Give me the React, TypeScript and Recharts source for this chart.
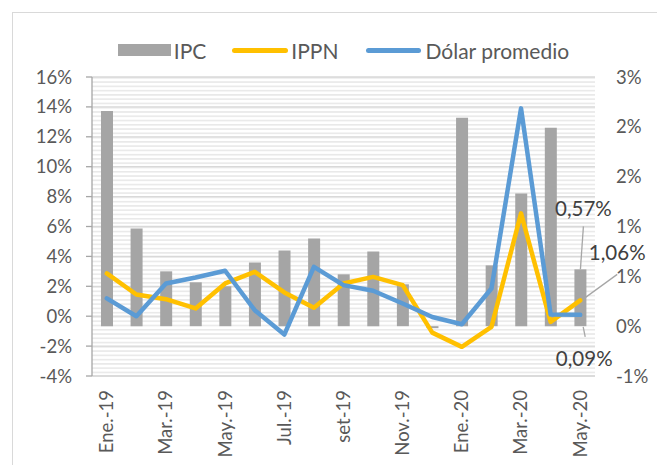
import React from 'react';
import { ComposedChart, Bar, Line, XAxis, YAxis, CartesianGrid, LabelList } from 'recharts';

const months = ["Ene.-19","Feb.-19","Mar.-19","Abr.-19","May.-19","Jun.-19","Jul.-19","Ago.-19","set-19","Oct.-19","Nov.-19","Dic.-19","Ene.-20","Feb.-20","Mar.-20","Abr.-20","May.-20"];
const ipc = [2.16, 0.98, 0.55, 0.44, 0.40, 0.64, 0.76, 0.88, 0.52, 0.75, 0.42, -0.02, 2.09, 0.61, 1.33, 1.99, 0.57];
const ippn = [2.86, 1.45, 1.14, 0.52, 2.19, 2.97, 1.59, 0.56, 2.19, 2.63, 2.08, -1.10, -2.05, -0.72, 6.88, -0.38, 1.06];
const dolar = [1.19, 0.0, 2.19, 2.59, 3.04, 0.40, -1.23, 3.30, 2.08, 1.70, 0.85, -0.05, -0.54, 1.85, 13.90, 0.11, 0.09];
const leftTicks = [-4, -2, 0, 2, 4, 6, 8, 10, 12, 14, 16];
const rightTicks = [-0.5, 0, 0.5, 1, 1.5, 2, 2.5];
const seriesNames = ["IPC", "IPPN", "Dólar promedio"];

const data = months.map((m, i) => ({ month: m, ipc: ipc[i], ippn: ippn[i], dolar: dolar[i] }));
const LAST = months.length - 1;

const FONT = 'Lato, "Open Sans", sans-serif';
const GRAY = '#A5A5A5';
const ORANGE = '#FFC000';
const BLUE = '#5B9BD5';
const TEXT = '#595959';

const excelRound = (v: number) => {
  const r = Math.sign(v) * Math.round(Math.abs(v));
  return `${r === 0 ? 0 : r}%`;
};
const fmt = (v: number) => `${v.toFixed(2).replace('.', ',')}%`;

const XTick = (props: any) => {
  const { x, y, payload } = props;
  return (
    <text
      x={x}
      y={y}
      transform={`rotate(-90, ${x}, ${y})`}
      textAnchor="end"
      dy="0.35em"
      fill={TEXT}
      fontSize={18.5}
      fontFamily={FONT}
    >
      {payload.value}
    </text>
  );
};

const BarLabel = (p: any) => {
  if (p.index !== LAST) return null;
  const cx = p.x + p.width / 2;
  const top = p.y;
  return (
    <g>
      <line x1={cx} y1={top} x2={cx + 3} y2={top - 43} stroke="#a6a6a6" strokeWidth={1.3} />
      <text x={cx + 3} y={top - 61} textAnchor="middle" dominantBaseline="central" fill="#404040" fontSize={20.5} fontFamily={FONT}>
        {fmt(p.value)}
      </text>
    </g>
  );
};

const IppnLabel = (p: any) => {
  if (p.index !== LAST) return null;
  const { x, y } = p;
  return (
    <g>
      <line x1={x + 4} y1={y - 2} x2={x + 37} y2={y - 26} stroke="#a6a6a6" strokeWidth={1.3} />
      <text x={x + 37} y={y - 48} textAnchor="middle" dominantBaseline="central" fill="#404040" fontSize={20.5} fontFamily={FONT}>
        {fmt(p.value)}
      </text>
    </g>
  );
};

const DolarLabel = (p: any) => {
  if (p.index !== LAST) return null;
  const { x, y } = p;
  return (
    <g>
      <line x1={x + 3} y1={y + 12} x2={x + 5} y2={y + 22} stroke="#a6a6a6" strokeWidth={1.3} />
      <text x={x + 4} y={y + 43} textAnchor="middle" dominantBaseline="central" fill="#404040" fontSize={20.5} fontFamily={FONT}>
        {fmt(p.value)}
      </text>
    </g>
  );
};

export default function App() {
  return (
    <div style={{ position: 'absolute', left: 0, top: 0, width: 657, height: 465, overflow: 'hidden', background: '#fff', fontFamily: FONT }}>
      <div style={{ position: 'absolute', left: 12, top: 12, width: 700, height: 500, borderLeft: '1.3px solid #d9d9d9', borderTop: '1.3px solid #d9d9d9' }} />
      <div style={{ position: 'absolute', left: 92, top: 37, width: 503, height: 26, display: 'flex', justifyContent: 'center', alignItems: 'center', fontSize: 21, color: TEXT, whiteSpace: 'nowrap' }}>
        <span style={{ display: 'inline-block', width: 53, height: 12, background: GRAY, marginRight: 3 }} />
        <span style={{ marginRight: 26 }}>{seriesNames[0]}</span>
        <span style={{ display: 'inline-block', width: 56, height: 5, borderRadius: 3, background: ORANGE, marginRight: 3 }} />
        <span style={{ marginRight: 27 }}>{seriesNames[1]}</span>
        <span style={{ display: 'inline-block', width: 55, height: 5, borderRadius: 3, background: BLUE, marginRight: 5 }} />
        <span>{seriesNames[2]}</span>
      </div>
      <div style={{ position: 'absolute', left: 0, top: 0 }}>
        <ComposedChart width={657} height={465} data={data} margin={{ top: 77, right: 0, bottom: 0, left: 12 }}>
          <defs>
            <pattern id="stripes" patternUnits="userSpaceOnUse" width="8" height="4.27" y="77">
              <rect width="8" height="4.27" fill="#ffffff" />
              <rect y="0" width="8" height="1.6" fill="#e9e9e9" />
            </pattern>
          </defs>
          <CartesianGrid yAxisId="left" vertical={false} stroke="#d9d9d9" strokeWidth={1.3} fill="url(#stripes)" fillOpacity={1} />
          <XAxis
            dataKey="month"
            interval={1}
            height={89}
            tickLine={false}
            axisLine={{ stroke: '#d9d9d9', strokeWidth: 1.3 }}
            tickMargin={8}
            tick={<XTick />}
          />
          <YAxis
            yAxisId="left"
            orientation="left"
            width={80}
            domain={[-4, 16]}
            ticks={leftTicks}
            tickFormatter={(v: number) => `${v}%`}
            axisLine={{ stroke: '#a6a6a6', strokeWidth: 1.3 }}
            tickLine={{ stroke: '#a6a6a6', strokeWidth: 1.3 }}
            tickSize={6}
            tickMargin={14}
            tick={{ fill: TEXT, fontSize: 18.5, fontFamily: FONT }}
            interval={0}
          />
          <YAxis
            yAxisId="right"
            orientation="right"
            width={62}
            domain={[-0.5, 2.5]}
            ticks={rightTicks}
            tickFormatter={excelRound}
            axisLine={false}
            tickLine={false}
            tickSize={6}
            tickMargin={15}
            tick={{ fill: TEXT, fontSize: 18.5, fontFamily: FONT }}
            interval={0}
          />
          <Bar yAxisId="right" dataKey="ipc" name={seriesNames[0]} fill={GRAY} barSize={12} isAnimationActive={false}>
            <LabelList dataKey="ipc" content={<BarLabel />} />
          </Bar>
          <Line yAxisId="left" dataKey="ippn" name={seriesNames[1]} stroke={ORANGE} strokeWidth={4.5} dot={false} strokeLinejoin="round" strokeLinecap="round" isAnimationActive={false}>
            <LabelList dataKey="ippn" content={<IppnLabel />} />
          </Line>
          <Line yAxisId="left" dataKey="dolar" name={seriesNames[2]} stroke={BLUE} strokeWidth={4.5} dot={false} strokeLinejoin="round" strokeLinecap="round" isAnimationActive={false}>
            <LabelList dataKey="dolar" content={<DolarLabel />} />
          </Line>
        </ComposedChart>
      </div>
    </div>
  );
}
